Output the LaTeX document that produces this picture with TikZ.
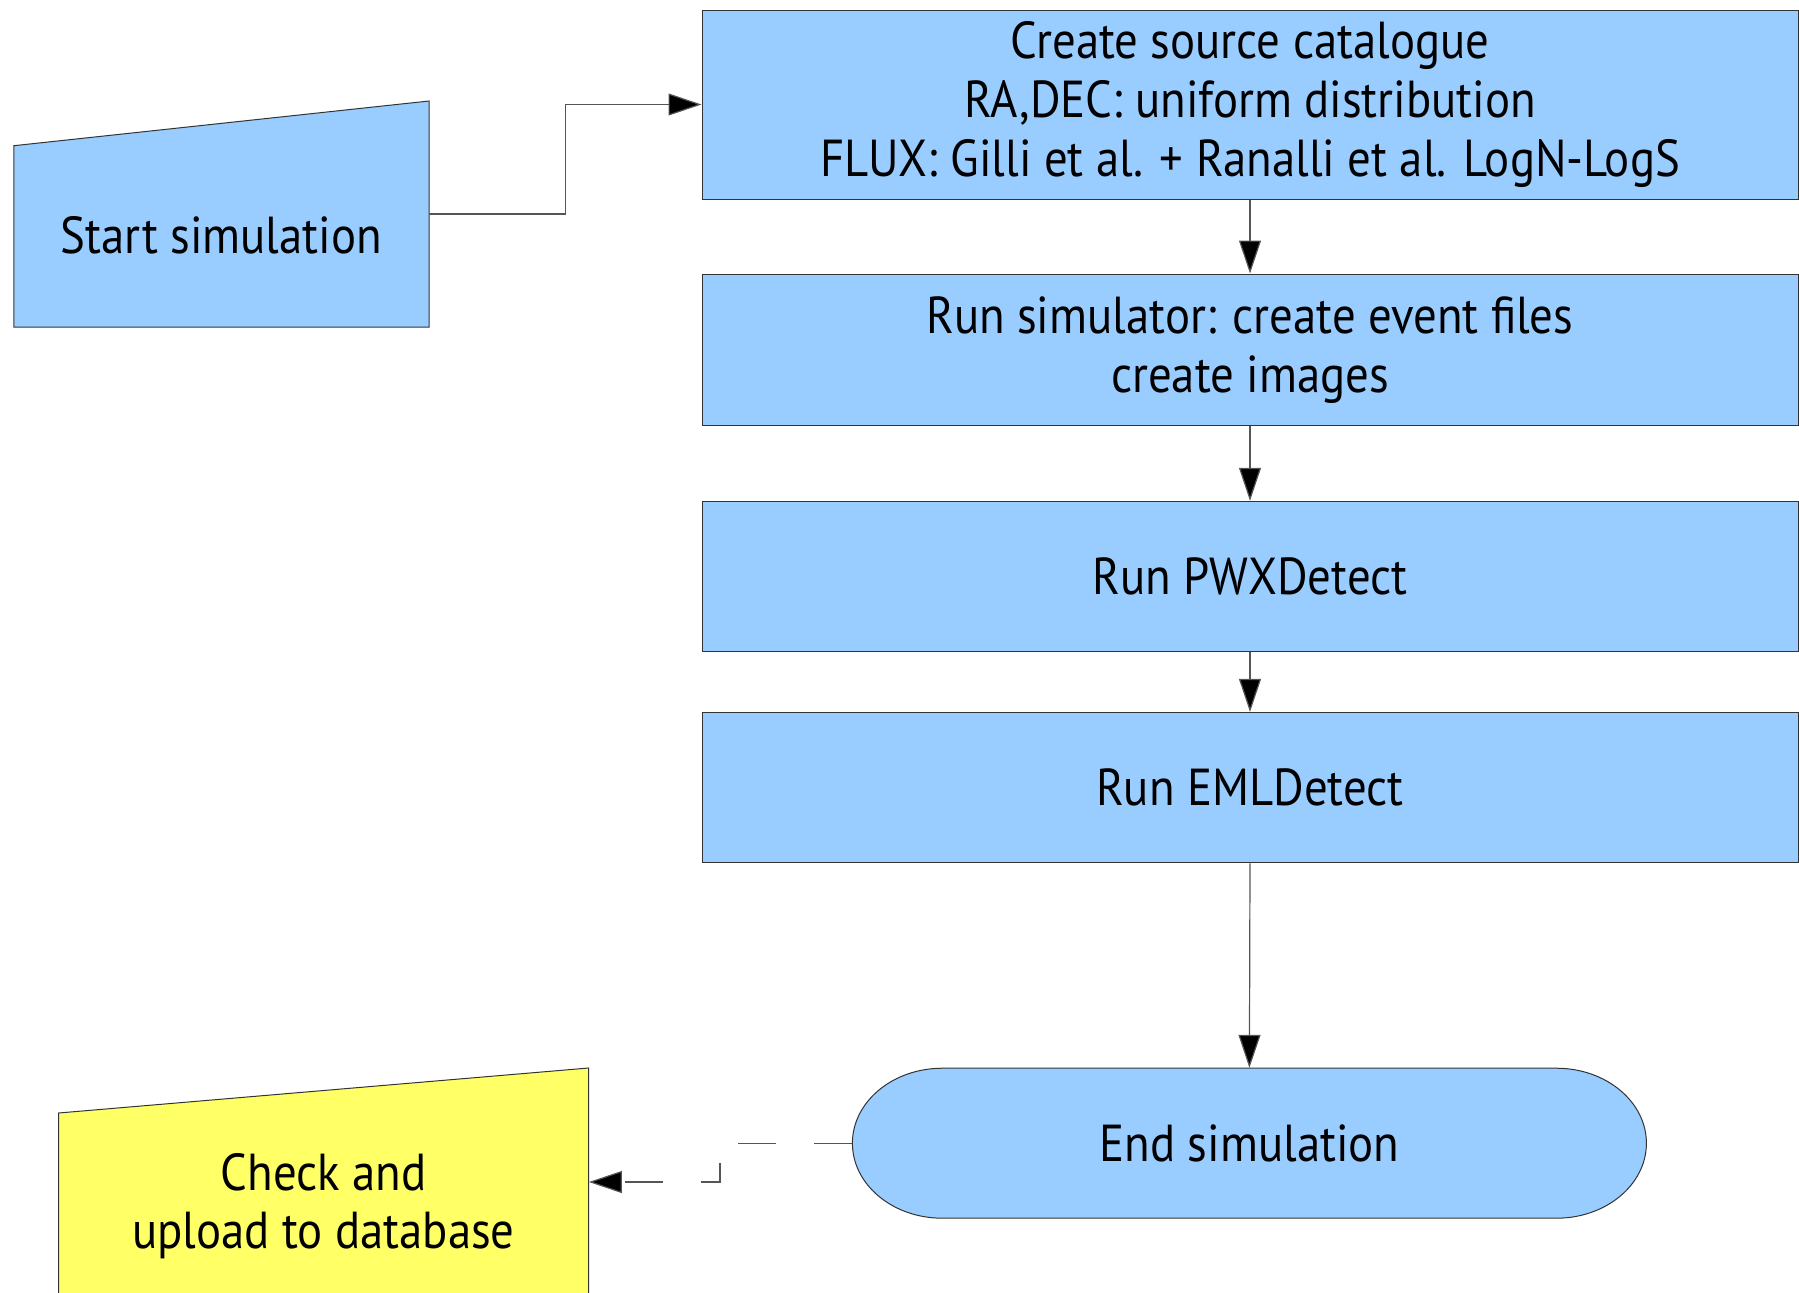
\documentclass[tikz,border=0pt]{standalone}
\usepackage{fontspec}
\setmainfont{PT Sans}[FakeStretch=0.9]
\usetikzlibrary{arrows.meta}
\definecolor{boxblue}{HTML}{99CCFF}
\definecolor{boxyellow}{HTML}{FFFF66}
\definecolor{edge}{HTML}{333333}
\definecolor{wire}{HTML}{555555}

\begin{document}
\begin{tikzpicture}[x=0.5pt,y=-0.5pt,
  txt/.style={font=\fontsize{26}{29.3}\selectfont, align=center, inner sep=0pt},
  proc/.style={txt, draw=edge, fill=boxblue, line width=0.5pt, minimum width=548pt},
  ghost/.style={draw=none, fill=none, inner sep=0pt},
  flow/.style={draw=wire, line width=0.6pt, -{Triangle[length=16.5pt,width=11pt,fill=black]}},
  shapeline/.style={draw=edge, line width=0.5pt}]
  \useasboundingbox (0,0) rectangle (1799,1292);

  % process boxes
  \node[proc, minimum height=94.5pt] (cat) at (1250,104.5)
    {Create source catalogue\\RA,DEC: uniform distribution\\FLUX: Gilli et al. + Ranalli et al. LogN-LogS};
  \node[proc, minimum height=75.8pt] (sim) at (1250,349.8)
    {Run simulator: create event files\\create images};
  \node[proc, minimum height=75.2pt] (pwx) at (1250,576.5) {Run PWXDetect};
  \node[proc, minimum height=75.2pt] (eml) at (1250,787.6) {Run EMLDetect};

  % manual-input shape: start
  \path[shapeline, fill=boxblue] (13.8,145.7) -- (429,101) -- (429,327) -- (13.8,327) -- cycle;
  \node[ghost, minimum width=207.6pt, minimum height=113pt] (start) at (221.4,214) {};
  \node[txt] (startlabel) at (221.4,235) {Start simulation};

  % terminator: end
  \path[shapeline, fill=boxblue] (942.4,1068.2) -- (1556.4,1068.2)
    arc[start angle=90, end angle=-90, x radius=45pt, y radius=37.5pt]
    -- (942.4,1218.2)
    arc[start angle=270, end angle=90, x radius=45pt, y radius=37.5pt] -- cycle;
  \node[txt, minimum width=397pt, minimum height=75pt] (end) at (1249.4,1143.2) {End simulation};

  % manual-input shape: check and upload
  \path[shapeline, fill=boxyellow] (58.5,1113) -- (588.6,1068) -- (588.6,1310) -- (58.5,1310) -- cycle;
  \node[ghost, minimum width=265pt, minimum height=114pt] (check) at (323.5,1182) {};
  \node[txt] (checklabel) at (323.5,1206) {Check and\\upload to database};

  % connectors
  \draw[flow] (start.east) -- (565.6,214) |- (cat.west);
  \draw[flow] (cat.south) -- (sim.north);
  \draw[flow] (sim.south) -- (pwx.north);
  \draw[flow] (pwx.south) -- (eml.north);
  \draw[flow] (eml.south) -- (end.north);
  \draw[flow, dash pattern=on 19pt off 19pt] (end.west) -- (720,1143.2) |- (check.east);
\end{tikzpicture}
\end{document}
